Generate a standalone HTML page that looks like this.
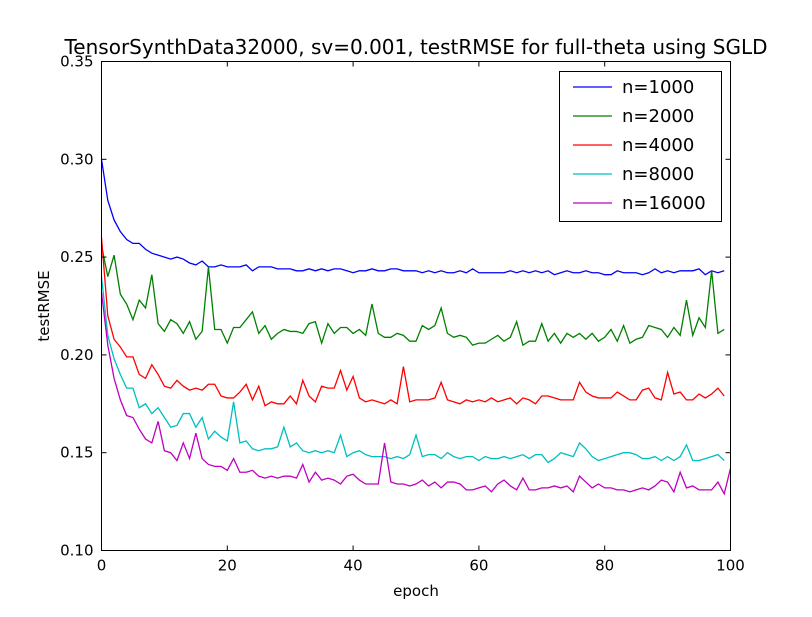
<!DOCTYPE html>
<html><head><meta charset="utf-8"><style>
body{margin:0;background:#fff;}
svg text{font-family:"DejaVu Sans","Liberation Sans",sans-serif;}
</style></head><body>
<svg id="chart" width="812" height="612" xmlns="http://www.w3.org/2000/svg">
<rect width="812" height="612" fill="#fff"/>
<text x="416" y="54" font-size="20" text-anchor="middle">TensorSynthData32000, sv=0.001, testRMSE for full-theta using SGLD</text>
<g id="series"></g>
<rect x="101.5" y="61.5" width="629" height="489" fill="none" stroke="#000" stroke-width="1"/>
<g id="ticks"></g>
<text x="416" y="596" font-size="15" text-anchor="middle">epoch</text>
<text x="49" y="306" font-size="15" text-anchor="middle" transform="rotate(-90 49 306)">testRMSE</text>
<g id="legend"></g>
</svg>
<script>
const xTicks=[0,20,40,60,80,100];
const yTicks=[0.10,0.15,0.20,0.25,0.30,0.35];
const seriesNames=["n=1000","n=2000","n=4000","n=8000","n=16000"];
const seriesColors=["#0000ff","#008000","#ff0000","#00bfbf","#bf00bf"];
const s1000=[0.300,0.279,0.269,0.263,0.259,0.257,0.257,0.254,0.252,0.251,0.250,0.249,0.250,0.249,0.247,0.246,0.248,0.245,0.245,0.246,0.245,0.245,0.245,0.246,0.243,0.245,0.245,0.245,0.244,0.244,0.244,0.243,0.243,0.244,0.243,0.244,0.243,0.244,0.244,0.243,0.242,0.243,0.243,0.244,0.243,0.243,0.244,0.244,0.243,0.243,0.243,0.242,0.243,0.242,0.243,0.242,0.242,0.243,0.242,0.244,0.242,0.242,0.242,0.242,0.242,0.243,0.242,0.243,0.242,0.243,0.242,0.243,0.241,0.242,0.243,0.242,0.242,0.243,0.242,0.242,0.241,0.241,0.243,0.242,0.242,0.242,0.241,0.242,0.244,0.242,0.243,0.242,0.243,0.243,0.243,0.244,0.241,0.243,0.242,0.243];
const s2000=[0.256,0.240,0.251,0.231,0.226,0.218,0.228,0.224,0.241,0.216,0.212,0.218,0.216,0.211,0.217,0.208,0.212,0.245,0.213,0.213,0.206,0.214,0.214,0.218,0.222,0.211,0.215,0.208,0.211,0.213,0.212,0.212,0.211,0.216,0.217,0.206,0.216,0.211,0.214,0.214,0.211,0.213,0.210,0.226,0.211,0.209,0.209,0.211,0.210,0.207,0.207,0.215,0.213,0.215,0.224,0.211,0.209,0.210,0.209,0.205,0.206,0.206,0.208,0.210,0.207,0.209,0.217,0.205,0.207,0.207,0.216,0.207,0.211,0.206,0.211,0.209,0.211,0.208,0.211,0.207,0.209,0.213,0.207,0.215,0.206,0.208,0.209,0.215,0.214,0.213,0.209,0.214,0.210,0.228,0.210,0.219,0.214,0.243,0.211,0.213];
const s4000=[0.260,0.220,0.208,0.204,0.199,0.199,0.190,0.188,0.195,0.190,0.184,0.183,0.187,0.184,0.182,0.183,0.182,0.185,0.185,0.179,0.178,0.178,0.181,0.185,0.177,0.184,0.174,0.176,0.175,0.175,0.179,0.175,0.187,0.179,0.176,0.184,0.183,0.183,0.192,0.182,0.189,0.178,0.176,0.177,0.176,0.175,0.177,0.175,0.194,0.176,0.177,0.177,0.177,0.178,0.186,0.177,0.176,0.175,0.177,0.176,0.177,0.176,0.178,0.176,0.177,0.178,0.175,0.178,0.177,0.175,0.179,0.179,0.178,0.177,0.177,0.177,0.186,0.181,0.179,0.178,0.178,0.178,0.181,0.179,0.177,0.177,0.182,0.183,0.178,0.177,0.191,0.180,0.181,0.177,0.177,0.180,0.178,0.180,0.183,0.179];
const s8000=[0.240,0.210,0.198,0.190,0.183,0.183,0.173,0.175,0.170,0.173,0.168,0.163,0.164,0.170,0.170,0.163,0.168,0.157,0.161,0.158,0.156,0.176,0.155,0.156,0.152,0.151,0.152,0.152,0.153,0.163,0.153,0.155,0.151,0.150,0.151,0.150,0.151,0.150,0.159,0.148,0.150,0.151,0.149,0.148,0.148,0.148,0.147,0.148,0.147,0.149,0.159,0.148,0.149,0.149,0.147,0.150,0.148,0.147,0.148,0.148,0.146,0.148,0.147,0.147,0.148,0.147,0.148,0.149,0.147,0.149,0.149,0.145,0.147,0.150,0.149,0.148,0.155,0.152,0.148,0.146,0.147,0.148,0.149,0.150,0.150,0.149,0.147,0.147,0.148,0.146,0.148,0.146,0.148,0.154,0.146,0.146,0.147,0.148,0.149,0.146];
const s16000=[0.232,0.205,0.188,0.177,0.169,0.168,0.162,0.157,0.155,0.166,0.151,0.150,0.146,0.155,0.147,0.160,0.147,0.144,0.143,0.143,0.141,0.147,0.140,0.140,0.141,0.138,0.137,0.138,0.137,0.138,0.138,0.137,0.144,0.135,0.140,0.136,0.137,0.136,0.134,0.138,0.139,0.136,0.134,0.134,0.134,0.155,0.135,0.134,0.134,0.133,0.134,0.136,0.133,0.135,0.132,0.135,0.135,0.134,0.131,0.131,0.132,0.133,0.130,0.134,0.136,0.133,0.131,0.137,0.131,0.131,0.132,0.132,0.133,0.132,0.133,0.130,0.138,0.135,0.132,0.134,0.132,0.132,0.131,0.131,0.130,0.131,0.132,0.131,0.133,0.136,0.135,0.130,0.140,0.132,0.133,0.131,0.131,0.131,0.135,0.129,0.142];
const allSeries=[s1000,s2000,s4000,s8000,s16000];

const NS="http://www.w3.org/2000/svg";
const X0=101.5,X1=730.5,Y0=550.5,Y1=61.5;
function xs(v){return X0+(v-0)/(100-0)*(X1-X0);}
function ys(v){return Y0-(v-0.10)/(0.35-0.10)*(Y0-Y1);}
function mk(tag,attrs,parent){const e=document.createElementNS(NS,tag);for(const k in attrs)e.setAttribute(k,attrs[k]);parent.appendChild(e);return e;}

const sg=document.getElementById('series');
allSeries.forEach((s,i)=>{
  const d=s.map((v,j)=>(j?'L':'M')+xs(j).toFixed(2)+' '+ys(v).toFixed(2)).join(' ');
  const p=mk('path',{d:d,fill:'none',stroke:seriesColors[i],'stroke-width':1.3},sg);
  
  
});

const tg=document.getElementById('ticks');
xTicks.forEach(t=>{
  const x=xs(t);
  mk('line',{x1:x,x2:x,y1:Y0,y2:Y0-5,stroke:'#000'},tg);
  mk('line',{x1:x,x2:x,y1:Y1,y2:Y1+5,stroke:'#000'},tg);
  const tx=mk('text',{x:x,y:Y0+20,'font-size':15,'text-anchor':'middle'},tg);
  tx.textContent=t;
  
  
});
yTicks.forEach(t=>{
  const y=ys(t);
  mk('line',{x1:X0,x2:X0+5,y1:y,y2:y,stroke:'#000'},tg);
  mk('line',{x1:X1,x2:X1-5,y1:y,y2:y,stroke:'#000'},tg);
  const tx=mk('text',{x:X0-8,y:y+5,'font-size':15,'text-anchor':'end'},tg);
  tx.textContent=t.toFixed(2);
  
  
});

const lg=document.getElementById('legend');
mk('rect',{x:559.5,y:71.5,width:162,height:150,fill:'#fff',stroke:'#000'},lg);
seriesNames.forEach((n,i)=>{
  const y=87+i*29;
  const g=mk('g',{},lg);
  
  
  mk('line',{x1:573,x2:612,y1:y,y2:y,stroke:seriesColors[i],'stroke-width':1.3},g);
  const t=mk('text',{x:622,y:y+6,'font-size':18},g);
  t.textContent=n;
});
</script>
</body></html>
